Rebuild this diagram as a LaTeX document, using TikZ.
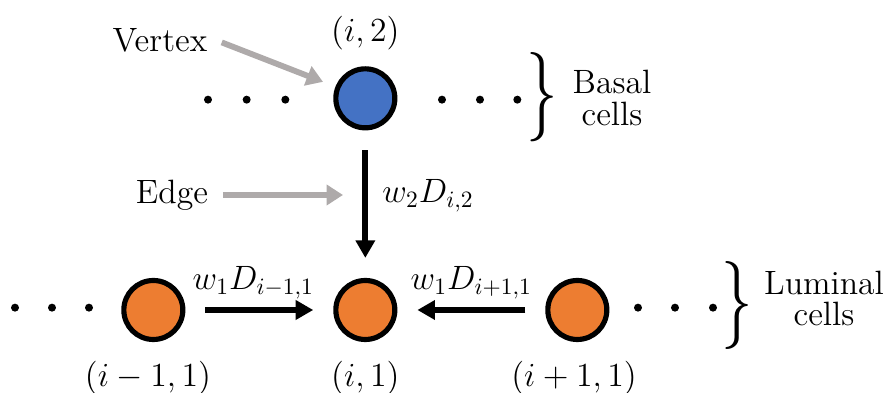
\documentclass[tikz,border=0pt]{standalone}
\usepackage{amsmath}
\usepackage{graphicx}
\usepackage{tikz}
\usetikzlibrary{arrows.meta, positioning}
\definecolor{basalblue}{RGB}{68,114,196}
\definecolor{luminalorange}{RGB}{237,125,49}
\definecolor{pointergray}{RGB}{174,170,170}

\begin{document}
\begin{tikzpicture}[font=\Large,
    cell/.style={circle,draw=black,line width=2.2pt,minimum size=0.885cm,inner sep=0pt},
    flux/.style={-{Triangle[length=7.5pt,width=8pt]},line width=2.5pt,
                 shorten <=0.3cm,shorten >=0.3cm},
    pointer/.style={-{Triangle[length=7pt,width=8.5pt]},pointergray,line width=2.5pt},
    bracenode/.style={inner sep=0pt}]
  \useasboundingbox (0,0) rectangle (13.35,5.895);

  % cells
  \node[cell,fill=basalblue] (b) at (5.48,4.42) {};
  \node[cell,fill=luminalorange] (l) at (2.30,1.245) {};
  \node[cell,fill=luminalorange] (m) at (5.48,1.245) {};
  \node[cell,fill=luminalorange] (r) at (8.66,1.245) {};

  \node[above=0.12cm of b] (bname) {$(i,2)$};
  \node[below=0.17cm of l,xshift=-0.08cm] (lname) {$(i-1,1)$};
  \node[below=0.17cm of m] (mname) {$(i,1)$};
  \node[below=0.17cm of r,xshift=-0.05cm] (rname) {$(i+1,1)$};

  % dots
  \foreach \x in {3.12,3.70,4.28,6.63,7.20,7.76}
    \fill (\x,4.40) circle (0.06);
  \foreach \x in {0.225,0.78,1.335,9.57,10.125,10.695}
    \fill (\x,1.28) circle (0.06);

  % braces
  \node[bracenode] (bbrace) at (8.13,4.43)
    {\resizebox*{0.47cm}{1.34cm}{$\}$}};
  \node[align=center] (btext) at (9.18,4.425) {Basal\\[-4.5pt]cells};
  \node[bracenode] (lbrace) at (11.06,1.305)
    {\resizebox*{0.47cm}{1.32cm}{$\}$}};
  \node[align=center] (ltext) at (12.36,1.4175) {Luminal\\[-4.5pt]cells};

  % edges
  \draw[flux] (b) -- (m) node[pos=0.445,right,xshift=2.7pt] (wb) {$w_2D_{i,2}$};
  \draw[flux] (l) -- (m) node[midway,above,xshift=-0.09cm] (wl) {$w_1D_{i-1,1}$};
  \draw[flux] (r) -- (m) node[midway,above] (wr) {$w_1D_{i+1,1}$};

  % pointers
  \node (vertex) at (2.40,5.295) {Vertex};
  \node (edge) at (2.58,2.97) {Edge};
  \coordinate (etip) at (5.145,2.97);
  \draw[pointer,shorten <=0.1cm,shorten >=0.2cm] (vertex.east) -- (b);
  \draw[pointer,shorten <=0.1cm] (edge.east) -- (etip);
\end{tikzpicture}
\end{document}
